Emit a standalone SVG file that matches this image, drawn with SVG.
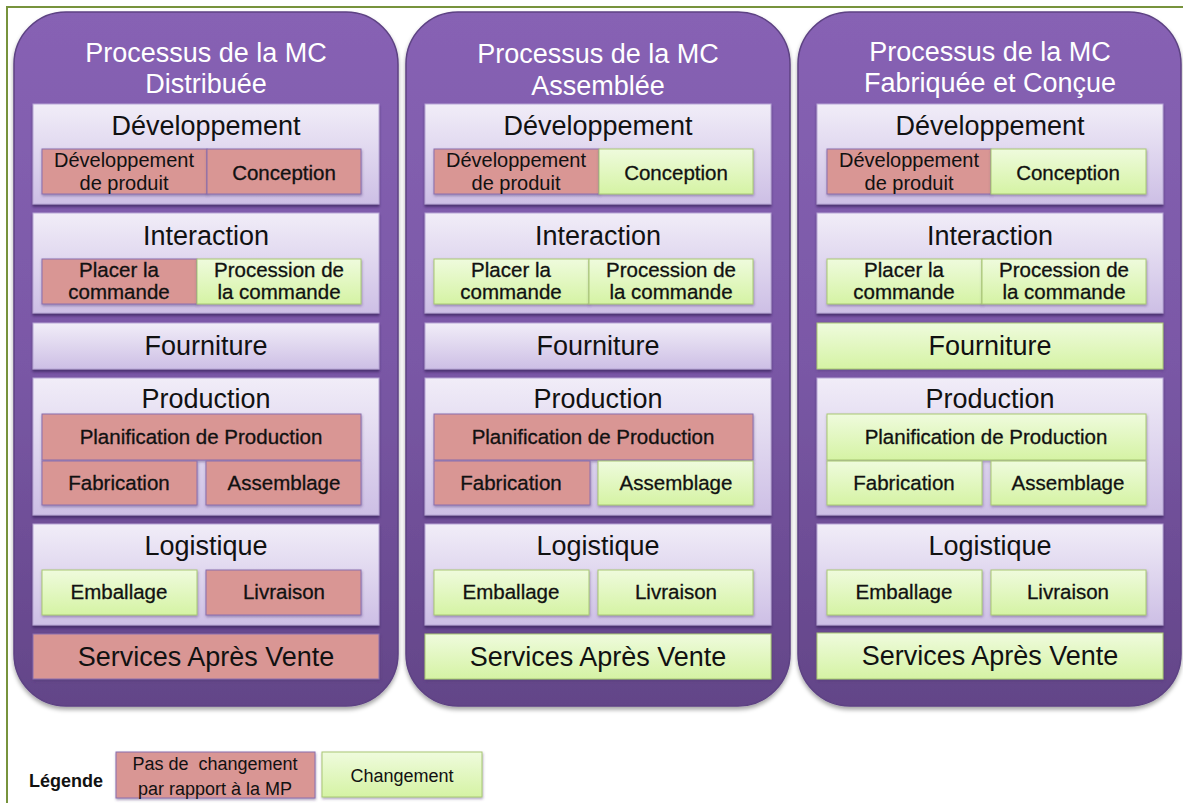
<svg xmlns="http://www.w3.org/2000/svg" width="1183" height="803" viewBox="0 0 1183 803">
  <style>
    .title { font-family: "Liberation Sans", Arial, sans-serif; font-size: 27px; fill: #ffffff; text-anchor: middle; }
    .head { font-family: "Liberation Sans", Arial, sans-serif; font-size: 27px; fill: #111111; text-anchor: middle; }
    .cell { font-family: "Liberation Sans", Arial, sans-serif; font-size: 20.5px; fill: #111111; text-anchor: middle; stroke: #111111; stroke-width: 0.3px; }
    .cellr { font-family: "Liberation Sans", Arial, sans-serif; font-size: 20px; fill: #111111; text-anchor: middle; }
    .leg { font-family: "Liberation Sans", Arial, sans-serif; font-size: 18px; fill: #111111; text-anchor: middle; }
    .col { fill: url(#gPurple); stroke: #5d4283; stroke-width: 1.5; filter: url(#shCol); }
    .panel { fill: url(#gLav); stroke: #b7a6d6; stroke-width: 1; filter: url(#shPan); }
    .pink { fill: #d99694; stroke: #8a6fae; stroke-width: 1; filter: url(#shCell); }
    .green { fill: url(#gGreen); stroke: #a9c875; stroke-width: 1; filter: url(#shCell); }
  </style>
  <defs>
    <linearGradient id="gPurple" x1="0" y1="0" x2="0" y2="1">
      <stop offset="0" stop-color="#8762b4"/>
      <stop offset="0.5" stop-color="#7a58a6"/>
      <stop offset="1" stop-color="#634588"/>
    </linearGradient>
    <linearGradient id="gLav" x1="0" y1="0" x2="0" y2="1">
      <stop offset="0" stop-color="#f1edf8"/>
      <stop offset="1" stop-color="#cdbfe5"/>
    </linearGradient>
    <linearGradient id="gGreen" x1="0" y1="0" x2="0" y2="1">
      <stop offset="0" stop-color="#effbdd"/>
      <stop offset="1" stop-color="#d5f3a4"/>
    </linearGradient>
    <filter id="shCol" x="-5%" y="-5%" width="110%" height="110%">
      <feDropShadow dx="0" dy="3" stdDeviation="2" flood-color="#000000" flood-opacity="0.35"/>
    </filter>
    <filter id="shPan" x="-5%" y="-10%" width="110%" height="130%">
      <feDropShadow dx="0" dy="2.5" stdDeviation="1.2" flood-color="#3b2460" flood-opacity="0.75"/>
    </filter>
    <filter id="shCell" x="-5%" y="-10%" width="110%" height="130%">
      <feDropShadow dx="0.5" dy="1.5" stdDeviation="1" flood-color="#4a3570" flood-opacity="0.45"/>
    </filter>
  </defs>

  <rect x="0" y="0" width="1183" height="803" fill="#ffffff"/>
  <rect id="frame" x="7" y="7" width="1200" height="820" fill="none" stroke="#77933c" stroke-width="2"/>

  <!-- Column 1 -->
  <g id="col1" transform="translate(14,0)">
    <rect class="col" x="0" y="12" width="384" height="694" rx="52" ry="52"/>
    <text class="title" x="192" y="62">Processus de la MC</text>
    <text class="title" x="192" y="93">Distribuée</text>
    <g id="c1-dev">
      <rect class="panel" x="19" y="104" width="346" height="100"/>
      <text class="head" x="192" y="135">Développement</text>
      <g id="c1-devprod"><rect class="pink" x="28" y="149" width="165" height="45"/>
        <text class="cellr" x="110" y="167">Développement</text><text class="cellr" x="110" y="190">de produit</text></g>
      <g id="c1-conc"><rect class="pink" x="193" y="149" width="154" height="45"/>
        <text class="cell" x="270" y="180">Conception</text></g>
    </g>
    <g id="c1-int">
      <rect class="panel" x="19" y="213" width="346" height="100"/>
      <text class="head" x="192" y="245">Interaction</text>
      <g id="c1-placer"><rect class="pink" x="28" y="259" width="155" height="45"/>
        <text class="cell" x="105" y="277">Placer la</text><text class="cell" x="105" y="299">commande</text></g>
      <g id="c1-proc"><rect class="green" x="183" y="259" width="164" height="45"/>
        <text class="cell" x="265" y="277">Procession de</text><text class="cell" x="265" y="299">la commande</text></g>
    </g>
    <g id="c1-four">
      <rect class="panel" x="19" y="323" width="346" height="46"/>
      <text class="head" x="192" y="355">Fourniture</text>
    </g>
    <g id="c1-prod">
      <rect class="panel" x="19" y="378" width="346" height="137"/>
      <text class="head" x="192" y="408">Production</text>
      <g id="c1-plan"><rect class="pink" x="28" y="414" width="319" height="46"/>
        <text class="cell" x="187" y="444">Planification de Production</text></g>
      <g id="c1-fab"><rect class="pink" x="28" y="461" width="155" height="44"/>
        <text class="cell" x="105" y="490">Fabrication</text></g>
      <g id="c1-ass"><rect class="pink" x="192" y="461" width="155" height="44"/>
        <text class="cell" x="270" y="490">Assemblage</text></g>
    </g>
    <g id="c1-log">
      <rect class="panel" x="19" y="524" width="346" height="101"/>
      <text class="head" x="192" y="555">Logistique</text>
      <g id="c1-emb"><rect class="green" x="28" y="570" width="155" height="45"/>
        <text class="cell" x="105" y="599">Emballage</text></g>
      <g id="c1-liv"><rect class="pink" x="192" y="570" width="155" height="45"/>
        <text class="cell" x="270" y="599">Livraison</text></g>
    </g>
    <g id="c1-sav">
      <rect class="pink" x="19" y="634" width="346" height="45"/>
      <text class="head" x="192" y="666">Services Après Vente</text>
    </g>
  </g>

  <!-- Column 2 -->
  <g id="col2" transform="translate(406,0)">
    <rect class="col" x="0" y="12" width="384" height="694" rx="52" ry="52"/>
    <text class="title" x="192" y="63">Processus de la MC</text>
    <text class="title" x="192" y="95">Assemblée</text>
    <g id="c2-dev">
      <rect class="panel" x="19" y="104" width="346" height="100"/>
      <text class="head" x="192" y="135">Développement</text>
      <g id="c2-devprod"><rect class="pink" x="28" y="149" width="165" height="45"/>
        <text class="cellr" x="110" y="167">Développement</text><text class="cellr" x="110" y="190">de produit</text></g>
      <g id="c2-conc"><rect class="green" x="193" y="149" width="154" height="45"/>
        <text class="cell" x="270" y="180">Conception</text></g>
    </g>
    <g id="c2-int">
      <rect class="panel" x="19" y="213" width="346" height="100"/>
      <text class="head" x="192" y="245">Interaction</text>
      <g id="c2-placer"><rect class="green" x="28" y="259" width="155" height="45"/>
        <text class="cell" x="105" y="277">Placer la</text><text class="cell" x="105" y="299">commande</text></g>
      <g id="c2-proc"><rect class="green" x="183" y="259" width="164" height="45"/>
        <text class="cell" x="265" y="277">Procession de</text><text class="cell" x="265" y="299">la commande</text></g>
    </g>
    <g id="c2-four">
      <rect class="panel" x="19" y="323" width="346" height="46"/>
      <text class="head" x="192" y="355">Fourniture</text>
    </g>
    <g id="c2-prod">
      <rect class="panel" x="19" y="378" width="346" height="137"/>
      <text class="head" x="192" y="408">Production</text>
      <g id="c2-plan"><rect class="pink" x="28" y="414" width="319" height="46"/>
        <text class="cell" x="187" y="444">Planification de Production</text></g>
      <g id="c2-fab"><rect class="pink" x="28" y="461" width="156" height="44"/>
        <text class="cell" x="105" y="490">Fabrication</text></g>
      <g id="c2-ass"><rect class="green" x="192" y="461" width="155" height="44"/>
        <text class="cell" x="270" y="490">Assemblage</text></g>
    </g>
    <g id="c2-log">
      <rect class="panel" x="19" y="524" width="346" height="101"/>
      <text class="head" x="192" y="555">Logistique</text>
      <g id="c2-emb"><rect class="green" x="28" y="570" width="155" height="45"/>
        <text class="cell" x="105" y="599">Emballage</text></g>
      <g id="c2-liv"><rect class="green" x="192" y="570" width="155" height="45"/>
        <text class="cell" x="270" y="599">Livraison</text></g>
    </g>
    <g id="c2-sav">
      <rect class="green" x="19" y="634" width="346" height="45"/>
      <text class="head" x="192" y="666">Services Après Vente</text>
    </g>
  </g>

  <!-- Column 3 -->
  <g id="col3" transform="translate(798,0)">
    <rect class="col" x="0" y="12" width="383" height="694" rx="52" ry="52"/>
    <text class="title" x="192" y="61">Processus de la MC</text>
    <text class="title" x="192" y="92">Fabriquée et Conçue</text>
    <g id="c3-dev">
      <rect class="panel" x="19" y="104" width="346" height="100"/>
      <text class="head" x="192" y="135">Développement</text>
      <g id="c3-devprod"><rect class="pink" x="29" y="149" width="164" height="45"/>
        <text class="cellr" x="111" y="167">Développement</text><text class="cellr" x="111" y="190">de produit</text></g>
      <g id="c3-conc"><rect class="green" x="193" y="149" width="155" height="45"/>
        <text class="cell" x="270" y="180">Conception</text></g>
    </g>
    <g id="c3-int">
      <rect class="panel" x="19" y="213" width="346" height="100"/>
      <text class="head" x="192" y="245">Interaction</text>
      <g id="c3-placer"><rect class="green" x="29" y="259" width="155" height="45"/>
        <text class="cell" x="106" y="277">Placer la</text><text class="cell" x="106" y="299">commande</text></g>
      <g id="c3-proc"><rect class="green" x="184" y="259" width="164" height="45"/>
        <text class="cell" x="266" y="277">Procession de</text><text class="cell" x="266" y="299">la commande</text></g>
    </g>
    <g id="c3-four">
      <rect class="green" x="19" y="323" width="346" height="46"/>
      <text class="head" x="192" y="355">Fourniture</text>
    </g>
    <g id="c3-prod">
      <rect class="panel" x="19" y="378" width="346" height="137"/>
      <text class="head" x="192" y="408">Production</text>
      <g id="c3-plan"><rect class="green" x="29" y="414" width="319" height="46"/>
        <text class="cell" x="188" y="444">Planification de Production</text></g>
      <g id="c3-fab"><rect class="green" x="29" y="461" width="155" height="44"/>
        <text class="cell" x="106" y="490">Fabrication</text></g>
      <g id="c3-ass"><rect class="green" x="193" y="461" width="155" height="44"/>
        <text class="cell" x="270" y="490">Assemblage</text></g>
    </g>
    <g id="c3-log">
      <rect class="panel" x="19" y="524" width="346" height="101"/>
      <text class="head" x="192" y="555">Logistique</text>
      <g id="c3-emb"><rect class="green" x="29" y="570" width="155" height="45"/>
        <text class="cell" x="106" y="599">Emballage</text></g>
      <g id="c3-liv"><rect class="green" x="193" y="570" width="155" height="45"/>
        <text class="cell" x="270" y="599">Livraison</text></g>
    </g>
    <g id="c3-sav">
      <rect class="green" x="19" y="633" width="346" height="46"/>
      <text class="head" x="192" y="665">Services Après Vente</text>
    </g>
  </g>

  <g id="connectors"/>

  <!-- Legend -->
  <g id="legend">
    <text x="29" y="787" font-family="Liberation Sans, Arial, sans-serif" font-size="18" font-weight="bold" fill="#111111">Légende</text>
    <g id="leg-pink">
      <rect class="pink" x="116" y="752" width="199" height="46"/>
      <text class="leg" x="215" y="770" xml:space="preserve">Pas de  changement</text>
      <text class="leg" x="215" y="795">par rapport à la MP</text>
    </g>
    <g id="leg-green">
      <rect class="green" x="322" y="752" width="160" height="45"/>
      <text class="leg" x="402" y="782">Changement</text>
    </g>
  </g>
</svg>
